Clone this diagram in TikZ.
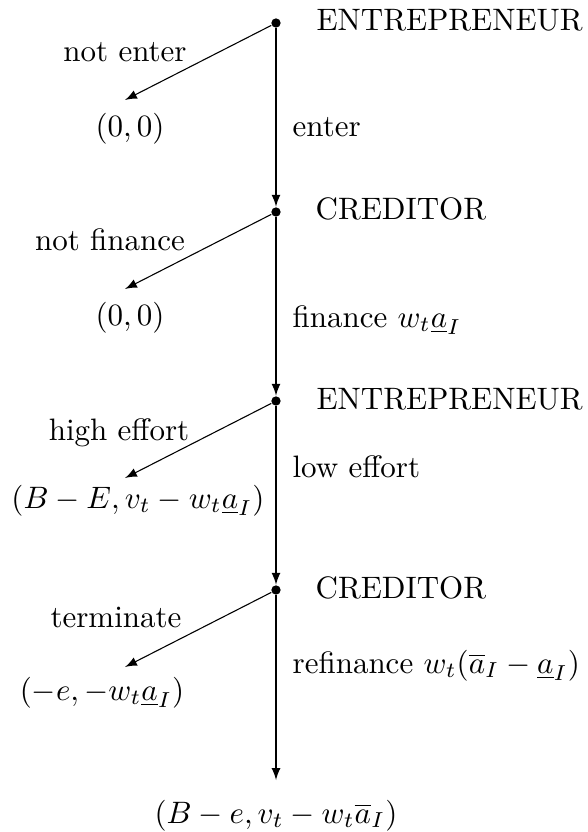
\documentclass[tikz,border=0pt]{standalone}
\usetikzlibrary{arrows}
\begin{document}
\begin{tikzpicture}[x=0.3226pt,y=-0.3226pt,
  dotnode/.style={circle,fill=black,inner sep=0pt,minimum size=3pt},
  branch/.style={-latex,line width=0.35pt},
  lbl/.style={anchor=base,inner sep=0pt},
  rlbl/.style={anchor=base west,inner sep=0pt}]
\useasboundingbox (0,0) rectangle (587,832);
% decision nodes
\node[dotnode] (d1) at (276,23) {};
\node[dotnode] (d2) at (276,212) {};
\node[dotnode] (d3) at (276,401) {};
\node[dotnode] (d4) at (276,590) {};
\coordinate (e5) at (276,780);
\coordinate (l1) at (125,100);
\coordinate (l2) at (125,289);
\coordinate (l3) at (125,478);
\coordinate (l4) at (125,667);
% player labels
\node[rlbl] (p1) at (316,31) {ENTREPRENEUR};
\node[rlbl] (p2) at (315,220) {CREDITOR};
\node[rlbl] (p3) at (316,409) {ENTREPRENEUR};
\node[rlbl] (p4) at (315,598) {CREDITOR};
% main path
\draw[branch] (d1) -- (d2);
\draw[branch] (d2) -- (d3);
\draw[branch] (d3) -- (d4);
\draw[branch] (d4) -- (e5);
% side branches
\draw[branch] (d1) -- (l1);
\draw[branch] (d2) -- (l2);
\draw[branch] (d3) -- (l3);
\draw[branch] (d4) -- (l4);
% action labels
\node[lbl] (a1) at (125,62) {not enter};
\node[lbl] (a2) at (110,251) {not finance};
\node[lbl] (a3) at (119,440) {high effort};
\node[lbl] (a4) at (116,627) {terminate};
\node[rlbl] (b1) at (292,137) {enter};
\node[rlbl] (b2) at (292,327) {finance $w_t\underline{a}_I$};
\node[rlbl] (b3) at (292,477) {low effort};
\node[rlbl] (b4) at (292,673) {refinance $w_t(\overline{a}_I-\underline{a}_I)$};
% payoffs
\node[lbl] (o1) at (130,137) {$(0,0)$};
\node[lbl] (o2) at (130,326) {$(0,0)$};
\node[lbl] (o3) at (138,508) {$(B-E,v_t-w_t\underline{a}_I)$};
\node[lbl] (o4) at (102,700) {$(-e,-w_t\underline{a}_I)$};
\node[lbl] (o5) at (276,823) {$(B-e,v_t-w_t\overline{a}_I)$};
\end{tikzpicture}
\end{document}
